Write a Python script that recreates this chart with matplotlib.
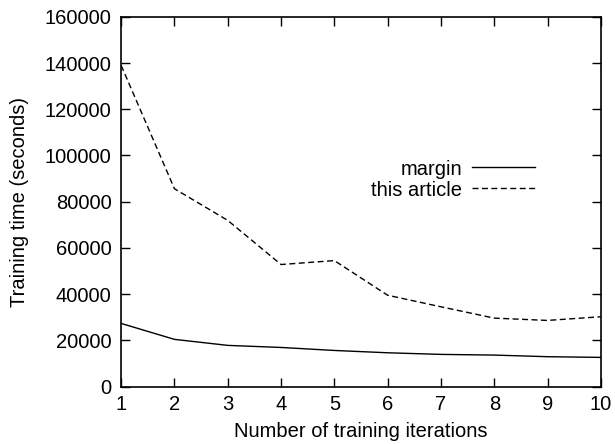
import matplotlib
matplotlib.use("Agg")
import matplotlib.pyplot as plt

plt.rcParams['font.family'] = ['Liberation Sans', 'DejaVu Sans']

iterations = [1, 2, 3, 4, 5, 6, 7, 8, 9, 10]
margin = [27300, 20400, 17800, 16900, 15600, 14600, 13900, 13600, 12900, 12600]
this_article = [139000, 85600, 71900, 52800, 54500, 39500, 34500, 29600, 28600, 30200]

fig = plt.figure(figsize=(6.15, 4.44), dpi=100)
ax = fig.add_axes([0.197, 0.1295, 0.78, 0.8325])

ax.plot(iterations, margin, color='black', lw=1.0, label='margin')
ax.plot(iterations, this_article, color='black', lw=1.0, ls=(0, (4.3, 2.5)), label='this article')

ax.set_xlim(1, 10)
ax.set_ylim(0, 160000)
ax.set_xticks(iterations)
ax.set_yticks(range(0, 160001, 20000))
ax.tick_params(direction='in', top=True, right=True, length=6.5, width=1, labelsize=14.5)
ax.tick_params(axis='y', pad=7)
ax.tick_params(axis='x', pad=6)
for s in ax.spines.values():
    s.set_linewidth(1.2)

ax.set_xlabel('Number of training iterations', fontsize=14.5, labelpad=6)
ax.set_ylabel('Training time (seconds)', fontsize=14.5, labelpad=11)

ax.legend(loc='center right', bbox_to_anchor=(0.9, 0.56), frameon=False, markerfirst=False,
          fontsize=14.5, handlelength=3.1, handletextpad=0.5, labelspacing=0.1)

fig.savefig('out.png', dpi=100)
